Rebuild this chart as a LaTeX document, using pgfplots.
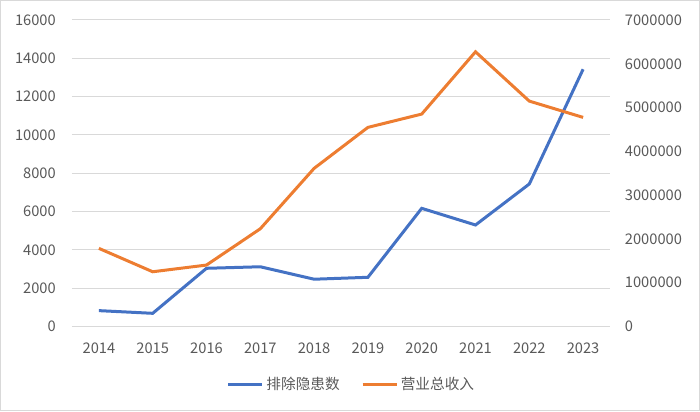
\documentclass[border=0pt]{standalone}
\usepackage{fontspec}
\setmainfont{Noto Sans CJK SC}
\usepackage{pgfplots}
\pgfplotsset{compat=1.18}
\definecolor{sblue}{HTML}{4472C4}
\definecolor{sorange}{HTML}{ED7D31}
\definecolor{gridc}{HTML}{D9D9D9}
\definecolor{txt}{HTML}{595959}

\begin{document}
\begin{tikzpicture}
\useasboundingbox (-54pt,-63.4pt) rectangle (471pt,244.9pt);
\draw[gridc, line width=0.75pt] (-53.6pt,-63pt) rectangle (470.6pt,244.5pt);
\pgfplotsset{
  every axis/.append style={
    scale only axis, width=403.5pt, height=229.9pt,
    xmin=-0.5, xmax=9.5,
    major tick length=0pt,
    font=\fontsize{11}{13}\selectfont,
    tick label style={color=txt},
    /pgf/number format/assume math mode=true,
  },
}
\begin{axis}[
    ymin=0, ymax=16000,
    ytick={0,2000,...,16000},
    ymajorgrids,
    grid style={color=gridc, line width=0.75pt},
    axis line style={draw=none},
    xtick={0,...,9},
    xticklabels={2014,2015,2016,2017,2018,2019,2020,2021,2022,2023},
    xticklabel style={inner sep=0pt, yshift=-12pt},
    yticklabel style={inner sep=0pt, xshift=-12pt,
      /pgf/number format/fixed, /pgf/number format/1000 sep={}},
    scaled y ticks=false,
  ]
  \addplot[sblue, line width=2.25pt] coordinates {
    (0, 830) (1, 690) (2, 3040) (3, 3120) (4, 2470)
    (5, 2570) (6, 6170) (7, 5300) (8, 7440) (9, 13430)
  };
\end{axis}
\begin{axis}[
    axis y line*=right,
    axis x line=none,
    ymin=0, ymax=7000000,
    ytick={0,1000000,...,7000000},
    scaled y ticks=false,
    yticklabel style={inner sep=0pt, xshift=11pt,
      /pgf/number format/fixed, /pgf/number format/1000 sep={}},
    axis line style={draw=none},
    legend columns=2,
    legend style={draw=none, fill=none, at={(0.52,-0.188)}, anchor=center,
      font=\fontsize{11}{13}\selectfont\color{txt},
      /tikz/every even column/.append style={column sep=14pt}},
    legend image code/.code={\draw[#1] (0pt,0pt) -- (25.5pt,0pt);},
  ]
  \addlegendimage{sblue, line width=2.25pt}
  \addlegendentry{排除隐患数}
  \addplot[sorange, line width=2.25pt] coordinates {
    (0, 1785000) (1, 1251000) (2, 1404000) (3, 2233000) (4, 3612000)
    (5, 4548000) (6, 4852000) (7, 6274000) (8, 5148000) (9, 4776000)
  };
  \addlegendentry{营业总收入}
\end{axis}
\end{tikzpicture}
\end{document}
